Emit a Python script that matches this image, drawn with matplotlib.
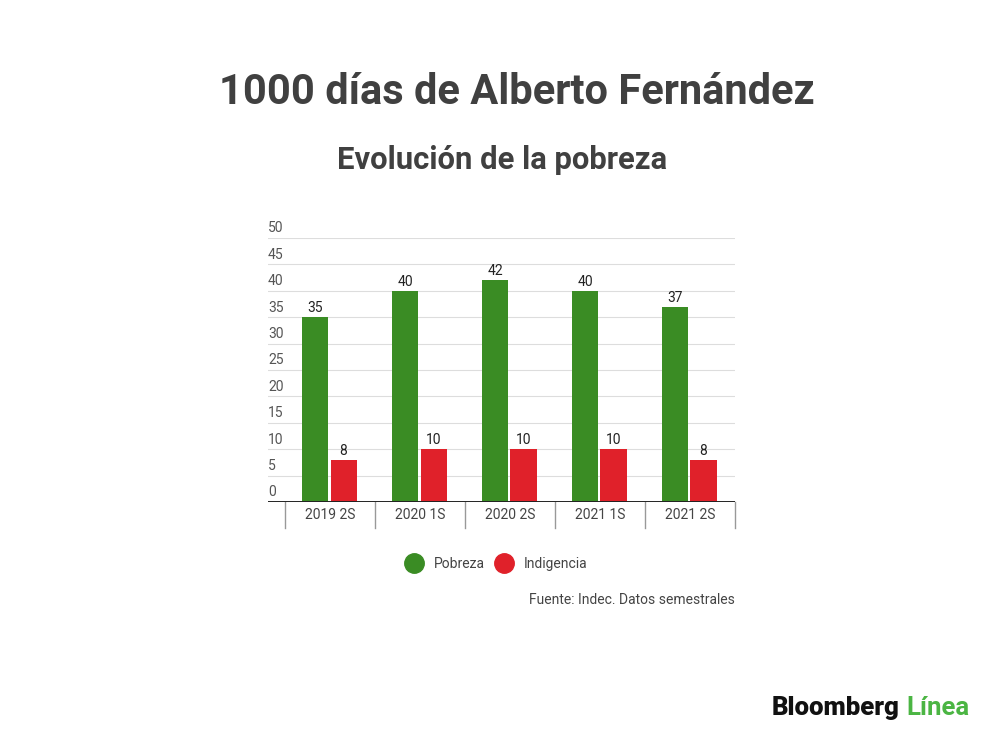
import numpy as np
import matplotlib
matplotlib.use('Agg')
import matplotlib.pyplot as plt
from matplotlib.lines import Line2D

categories = ['2019 2S', '2020 1S', '2020 2S', '2021 1S', '2021 2S']
pobreza = [35, 40, 42, 40, 37]
indigencia = [8, 10, 10, 10, 8]
yticks = [0, 5, 10, 15, 20, 25, 30, 35, 40, 45, 50]

GREEN = '#3a8c24'
RED = '#e0212a'
TEXT = '#404040'

plt.rcParams['font.family'] = ['Roboto', 'DejaVu Sans']

fig = plt.figure(figsize=(10, 7.39), dpi=100)
fig.patch.set_facecolor('white')

W, H = 1000, 739
# axes: x from pixel 268 to 735, y from pixel 238 (50) to 502 (0)
ax = fig.add_axes([268 / W, 1 - 502 / H, (735 - 268) / W, (502 - 238) / H])
ax.set_xlim(-0.69, 4.5)
ax.set_ylim(0, 50)

x = np.arange(len(categories))
bw = 0.29
ax.bar(x - 0.165, pobreza, bw, color=GREEN, zorder=3)
ax.bar(x + 0.15, indigencia, bw, color=RED, zorder=3)

for xi, v in zip(x, pobreza):
    ax.text(xi - 0.165, v + 0.4, str(v), ha='center', va='bottom', fontsize=10, color='#222222', zorder=4)
for xi, v in zip(x, indigencia):
    ax.text(xi + 0.15, v + 0.4, str(v), ha='center', va='bottom', fontsize=10, color='#222222', zorder=4)

# gridlines and y labels sitting above them
for t in yticks:
    if t > 0:
        ax.axhline(t, color='#dddddd', lw=0.8, zorder=1)
    ax.text(-0.69, t + 0.5, str(t), ha='left', va='bottom', fontsize=10, color='#555555')

ax.axhline(0, color='#222222', lw=1.4, zorder=5)

for s in ax.spines.values():
    s.set_visible(False)
ax.set_xticks([])
ax.set_yticks([])

# category separators and labels below baseline
for b in np.arange(-0.5, 5.0, 1.0):
    ax.plot([b, b], [0, -5], color='#999999', lw=1, clip_on=False)
for xi, c in zip(x, categories):
    ax.text(xi, -2.4, c, ha='center', va='center', fontsize=10, color='#444444')

# titles
fig.text(517 / W, 1 - 93 / H, '1000 días de Alberto Fernández', ha='center', va='center',
         fontsize=30, fontweight='bold', color=TEXT)
fig.text(502 / W, 1 - 160 / H, 'Evolución de la pobreza', ha='center', va='center',
         fontsize=22.3, fontweight='bold', color=TEXT)

# legend
handles = [Line2D([], [], marker='o', ls='', color=GREEN, markersize=14),
           Line2D([], [], marker='o', ls='', color=RED, markersize=14)]
fig.legend(handles, ['Pobreza', 'Indigencia'], loc='center', bbox_to_anchor=(497 / W, 1 - 564 / H),
           ncol=2, frameon=False, fontsize=10, handletextpad=0.9, columnspacing=0.9,
           labelcolor='#444444', handlelength=1.0)

fig.text(735 / W, 1 - 600 / H, 'Fuente: Indec. Datos semestrales', ha='right', va='center',
         fontsize=10, color='#444444')

# logo
t1 = fig.text(772 / W, 1 - 708 / H, 'Bloomberg', ha='left', va='center', fontsize=18.5,
              fontweight='heavy', color='#111111')
fig.canvas.draw()
bb = t1.get_window_extent()
fig.text((bb.x1 + 6) / W, 1 - 708 / H, 'Línea', ha='left', va='center', fontsize=18.5,
         fontweight='bold', color='#4bb543')

fig.savefig('out.png', dpi=100, facecolor='white')
